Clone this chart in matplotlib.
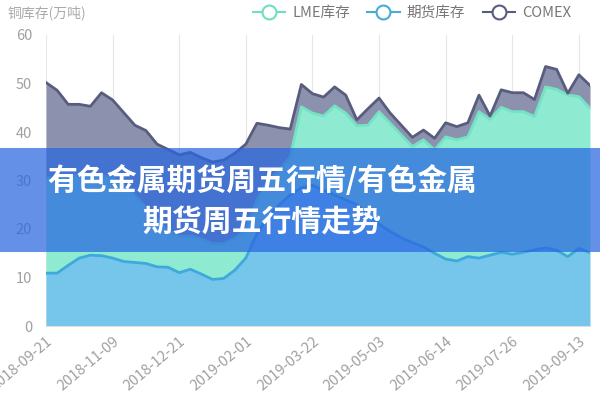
import matplotlib
matplotlib.use('Agg')
import matplotlib.pyplot as plt
from matplotlib.lines import Line2D
from matplotlib.patches import Rectangle

plt.rcParams['font.family'] = ['Noto Sans CJK SC', 'DejaVu Sans']

# 每周五数据 (万吨)
dates = ['2018-09-21', '2018-09-28', '2018-10-12', '2018-10-19', '2018-10-26', '2018-11-02',
         '2018-11-09', '2018-11-16', '2018-11-23', '2018-11-30', '2018-12-07', '2018-12-14',
         '2018-12-21', '2018-12-28', '2019-01-04', '2019-01-11', '2019-01-18', '2019-01-25',
         '2019-02-01', '2019-02-15', '2019-02-22', '2019-03-01', '2019-03-08', '2019-03-15',
         '2019-03-22', '2019-03-29', '2019-04-05', '2019-04-12', '2019-04-19', '2019-04-26',
         '2019-05-03', '2019-05-10', '2019-05-17', '2019-05-24', '2019-05-31', '2019-06-07',
         '2019-06-14', '2019-06-21', '2019-06-28', '2019-07-05', '2019-07-12', '2019-07-19',
         '2019-07-26', '2019-08-02', '2019-08-09', '2019-08-16', '2019-08-23', '2019-09-06',
         '2019-09-13', '2019-09-20']

qihuo = [10.9, 10.9, 12.5, 14.0, 14.6, 14.5, 14.0, 13.3, 13.1, 12.9, 12.2, 12.1, 11.0, 11.7,
         10.7, 9.6, 9.8, 11.5, 14.0, 19.0, 22.5, 25.0, 27.0, 28.5, 29.0, 28.0, 27.0, 26.0,
         25.0, 23.0, 21.0, 19.5, 18.2, 17.2, 16.3, 15.0, 13.8, 13.4, 14.3, 14.0, 14.6, 15.2,
         14.8, 15.2, 15.7, 16.1, 15.6, 14.3, 16.0, 15.1]

lme = [19.6, 19.6, 18.5, 17.0, 15.9, 16.5, 16.5, 15.7, 13.9, 11.6, 9.8, 7.4, 7.5, 6.8,
       7.3, 7.4, 7.2, 6.5, 6.0, 7.0, 7.5, 7.0, 8.0, 16.7, 14.9, 15.3, 18.4, 17.9,
       16.3, 18.4, 23.2, 22.3, 21.2, 19.8, 22.1, 21.3, 25.2, 25.0, 24.7, 30.2, 28.0, 29.9,
       29.4, 29.0, 27.5, 33.2, 33.2, 33.3, 31.3, 29.8]

comex = [19.7, 18.1, 14.7, 14.7, 14.8, 17.1, 16.1, 15.0, 14.4, 15.8, 15.5, 16.9, 16.8, 17.3,
         16.7, 16.8, 17.2, 17.6, 17.5, 15.8, 11.4, 8.9, 5.6, 4.6, 4.0, 3.9, 3.9, 3.7,
         1.2, 3.4, 2.8, 2.1, 2.0, 1.9, 2.0, 2.4, 2.9, 2.7, 2.9, 3.4, 0.7, 3.6,
         3.9, 3.9, 3.5, 4.2, 4.1, 0.4, 4.5, 4.7]

title_lines = ['有色金属期货周五行情/有色金属', '期货周五行情走势']

x = list(range(len(dates)))
s1 = qihuo
s2 = [a + b for a, b in zip(qihuo, lme)]
s3 = [a + b for a, b in zip(s2, comex)]

fig = plt.figure(figsize=(6, 4), dpi=100)
ax = fig.add_axes([46 / 600, 1 - 326 / 400, 544 / 600, 291 / 400])

ax.fill_between(x, 0, s1, color='#76c6ec', lw=0, zorder=2)
ax.fill_between(x, s1, s2, color='#8eead0', lw=0, zorder=2)
ax.fill_between(x, s2, s3, color='#8c91ad', lw=0, zorder=2)
ax.plot(x, s1, color='#3fa9dc', lw=2, zorder=3)
ax.plot(x, s2, color='#74e2c4', lw=2, zorder=3)
ax.plot(x, s3, color='#585d7e', lw=2, zorder=3)

ax.set_xlim(0, len(x) - 1)
ax.set_ylim(0, 60)
ticks = x[::6]
ax.set_xticks(ticks)
ax.set_xticklabels([dates[i] for i in ticks], rotation=40, ha='right', va='top',
                   rotation_mode='anchor', fontsize=10.5, color='#a0a0a0')
ax.set_yticks(range(0, 61, 10))
ax.tick_params(axis='y', length=0, labelsize=10.5, labelcolor='#a0a0a0', pad=10)
ax.tick_params(axis='x', length=0, pad=6)
ax.grid(axis='x', color='#e6e6e6', lw=0.8, zorder=1)
ax.set_axisbelow(True)
for s in ['top', 'right', 'left']:
    ax.spines[s].set_visible(False)
ax.spines['bottom'].set_color('#dddddd')

fig.text(8 / 600, 1 - 13 / 400, '铜库存(万吨)', fontsize=10, color='#aaaaaa', va='center')

handles = [
    Line2D([], [], color='#6fdfc0', lw=1.5, marker='o', ms=10, mfc='white', mew=1.5),
    Line2D([], [], color='#45acd8', lw=1.5, marker='o', ms=10, mfc='white', mew=1.5),
    Line2D([], [], color='#585d7e', lw=1.5, marker='o', ms=10, mfc='white', mew=1.5),
]
fig.legend(handles, ['LME库存', '期货库存', 'COMEX'], loc='center', ncol=3,
           bbox_to_anchor=(412 / 600, 1 - 13 / 400), frameon=False, fontsize=10.5,
           labelcolor='#777777', handlelength=2.2, handletextpad=0.5, columnspacing=1.2)

fig.add_artist(Rectangle((0, 1 - 252 / 400), 1, 104 / 400, transform=fig.transFigure,
                         facecolor=(0.16, 0.40, 0.88), alpha=0.72, lw=0, zorder=5))
fig.text(262 / 600, 1 - 181 / 400, title_lines[0], fontsize=21.5, fontweight='bold',
         color='white', ha='center', va='center', zorder=6)
fig.text(262 / 600, 1 - 223 / 400, title_lines[1], fontsize=21.5, fontweight='bold',
         color='white', ha='center', va='center', zorder=6)

fig.savefig('out.png', dpi=100)
